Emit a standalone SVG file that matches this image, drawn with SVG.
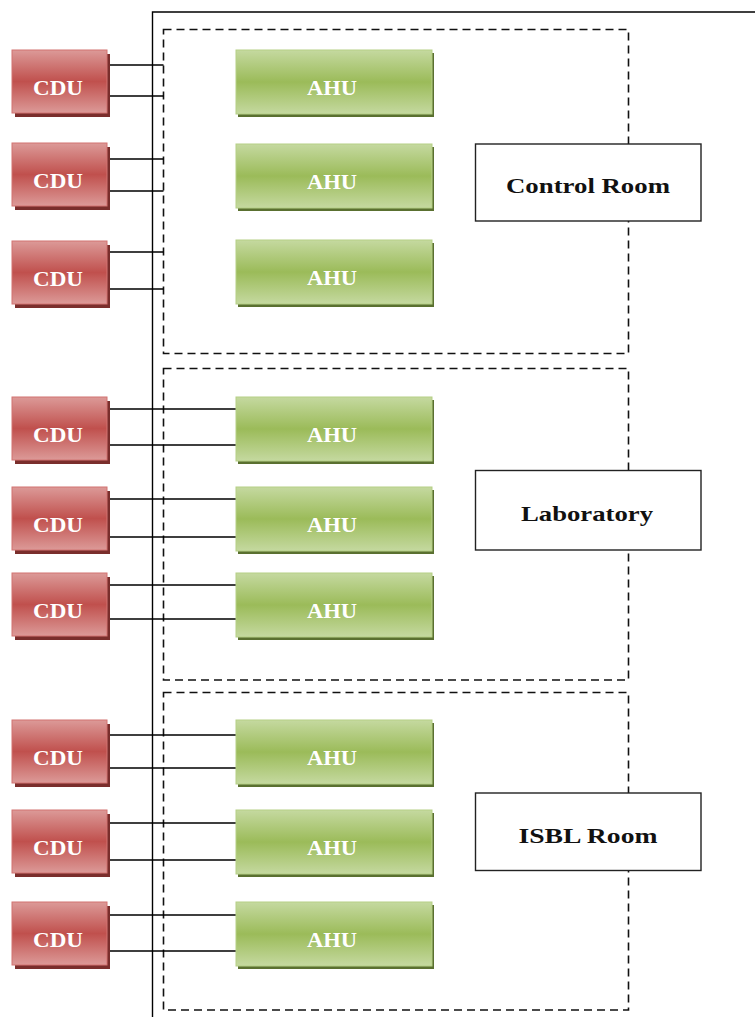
<svg xmlns="http://www.w3.org/2000/svg" width="755" height="1017" viewBox="0 0 755 1017">
<defs>
<linearGradient id="gRed" x1="0" y1="0" x2="0" y2="1">
<stop offset="0" stop-color="#dc9a98"/>
<stop offset="0.5" stop-color="#c0504d"/>
<stop offset="1" stop-color="#dc9a98"/>
</linearGradient>
<linearGradient id="gGreen" x1="0" y1="0" x2="0" y2="1">
<stop offset="0" stop-color="#c5d9a0"/>
<stop offset="0.5" stop-color="#9bbb59"/>
<stop offset="1" stop-color="#c5d9a0"/>
</linearGradient>
<style>
.cduS{fill:#7a2e2c}
.cdu{fill:url(#gRed);stroke:#d27370;stroke-width:1}
.ahuS{fill:#5a7030}
.ahu{fill:url(#gGreen);stroke:#b5cf85;stroke-width:1}
.t{font-family:"Liberation Serif","DejaVu Serif",serif;font-weight:bold;font-size:20px;fill:#ffffff;text-anchor:middle}
.zone{fill:none;stroke:#111;stroke-width:1.6;stroke-dasharray:8 5}
.lbl{fill:#ffffff;stroke:#222;stroke-width:1.4}
.lt{font-family:"Liberation Serif","DejaVu Serif",serif;font-weight:bold;font-size:22px;fill:#111;text-anchor:middle}
.c{stroke:#000;stroke-width:1.4;fill:none}
</style>
</defs>
<rect width="755" height="1017" fill="#ffffff"/>
<g id="zones">
<rect id="zone-control" class="zone" x="163.5" y="29.5" width="465" height="324"/>
<rect id="zone-lab" class="zone" x="163.5" y="368.5" width="465" height="311.5"/>
<rect id="zone-isbl" class="zone" x="163.5" y="692.5" width="465" height="317.5"/>
</g>
<g id="connectors">
<path class="c" d="M152.5 1017 V12 H755" stroke-width="1.6"/>
<path class="c" d="M107 65 H163.5 M107 96 H163.5 M107 159 H163.5 M107 191 H163.5 M107 252 H163.5 M107 289 H163.5"/>
<path class="c" d="M107 409 H236 M107 445 H236 M107 499 H236 M107 537 H236 M107 585 H236 M107 619 H236"/>
<path class="c" d="M107 735 H236 M107 768 H236 M107 823 H236 M107 860 H236 M107 915 H236 M107 951 H236"/>
</g>
<g id="cdu1"><rect class="cduS" x="15" y="54" width="95" height="63"/><rect class="cdu" x="12" y="50" width="95" height="63"/><text class="t" x="58" y="95" textLength="50" lengthAdjust="spacingAndGlyphs">CDU</text></g>
<g id="cdu2"><rect class="cduS" x="15" y="147" width="95" height="63"/><rect class="cdu" x="12" y="143" width="95" height="63"/><text class="t" x="58" y="188" textLength="50" lengthAdjust="spacingAndGlyphs">CDU</text></g>
<g id="cdu3"><rect class="cduS" x="15" y="245" width="95" height="63"/><rect class="cdu" x="12" y="241" width="95" height="63"/><text class="t" x="58" y="286" textLength="50" lengthAdjust="spacingAndGlyphs">CDU</text></g>
<g id="cdu4"><rect class="cduS" x="15" y="401" width="95" height="63"/><rect class="cdu" x="12" y="397" width="95" height="63"/><text class="t" x="58" y="442" textLength="50" lengthAdjust="spacingAndGlyphs">CDU</text></g>
<g id="cdu5"><rect class="cduS" x="15" y="491" width="95" height="63"/><rect class="cdu" x="12" y="487" width="95" height="63"/><text class="t" x="58" y="532" textLength="50" lengthAdjust="spacingAndGlyphs">CDU</text></g>
<g id="cdu6"><rect class="cduS" x="15" y="577" width="95" height="63"/><rect class="cdu" x="12" y="573" width="95" height="63"/><text class="t" x="58" y="618" textLength="50" lengthAdjust="spacingAndGlyphs">CDU</text></g>
<g id="cdu7"><rect class="cduS" x="15" y="724" width="95" height="63"/><rect class="cdu" x="12" y="720" width="95" height="63"/><text class="t" x="58" y="765" textLength="50" lengthAdjust="spacingAndGlyphs">CDU</text></g>
<g id="cdu8"><rect class="cduS" x="15" y="814" width="95" height="63"/><rect class="cdu" x="12" y="810" width="95" height="63"/><text class="t" x="58" y="855" textLength="50" lengthAdjust="spacingAndGlyphs">CDU</text></g>
<g id="cdu9"><rect class="cduS" x="15" y="906" width="95" height="63"/><rect class="cdu" x="12" y="902" width="95" height="63"/><text class="t" x="58" y="947" textLength="50" lengthAdjust="spacingAndGlyphs">CDU</text></g>
<g id="ahu1"><rect class="ahuS" x="238" y="53" width="196" height="64"/><rect class="ahu" x="236" y="50" width="196" height="64"/><text class="t" x="332" y="95" textLength="50" lengthAdjust="spacingAndGlyphs">AHU</text></g>
<g id="ahu2"><rect class="ahuS" x="238" y="147" width="196" height="64"/><rect class="ahu" x="236" y="144" width="196" height="64"/><text class="t" x="332" y="189" textLength="50" lengthAdjust="spacingAndGlyphs">AHU</text></g>
<g id="ahu3"><rect class="ahuS" x="238" y="243" width="196" height="64"/><rect class="ahu" x="236" y="240" width="196" height="64"/><text class="t" x="332" y="285" textLength="50" lengthAdjust="spacingAndGlyphs">AHU</text></g>
<g id="ahu4"><rect class="ahuS" x="238" y="400" width="196" height="64"/><rect class="ahu" x="236" y="397" width="196" height="64"/><text class="t" x="332" y="442" textLength="50" lengthAdjust="spacingAndGlyphs">AHU</text></g>
<g id="ahu5"><rect class="ahuS" x="238" y="490" width="196" height="64"/><rect class="ahu" x="236" y="487" width="196" height="64"/><text class="t" x="332" y="532" textLength="50" lengthAdjust="spacingAndGlyphs">AHU</text></g>
<g id="ahu6"><rect class="ahuS" x="238" y="576" width="196" height="64"/><rect class="ahu" x="236" y="573" width="196" height="64"/><text class="t" x="332" y="618" textLength="50" lengthAdjust="spacingAndGlyphs">AHU</text></g>
<g id="ahu7"><rect class="ahuS" x="238" y="723" width="196" height="64"/><rect class="ahu" x="236" y="720" width="196" height="64"/><text class="t" x="332" y="765" textLength="50" lengthAdjust="spacingAndGlyphs">AHU</text></g>
<g id="ahu8"><rect class="ahuS" x="238" y="813" width="196" height="64"/><rect class="ahu" x="236" y="810" width="196" height="64"/><text class="t" x="332" y="855" textLength="50" lengthAdjust="spacingAndGlyphs">AHU</text></g>
<g id="ahu9"><rect class="ahuS" x="238" y="905" width="196" height="64"/><rect class="ahu" x="236" y="902" width="196" height="64"/><text class="t" x="332" y="947" textLength="50" lengthAdjust="spacingAndGlyphs">AHU</text></g>
<g id="label-control"><rect class="lbl" x="475.5" y="144" width="225.5" height="77"/><text class="lt" x="588" y="193" textLength="164" lengthAdjust="spacingAndGlyphs">Control Room</text></g>
<g id="label-lab"><rect class="lbl" x="475.5" y="470.5" width="225.5" height="79.5"/><text class="lt" x="587" y="521" textLength="132" lengthAdjust="spacingAndGlyphs">Laboratory</text></g>
<g id="label-isbl"><rect class="lbl" x="475.5" y="793" width="225.5" height="77.5"/><text class="lt" x="588" y="843" textLength="139" lengthAdjust="spacingAndGlyphs">ISBL Room</text></g>
</svg>
